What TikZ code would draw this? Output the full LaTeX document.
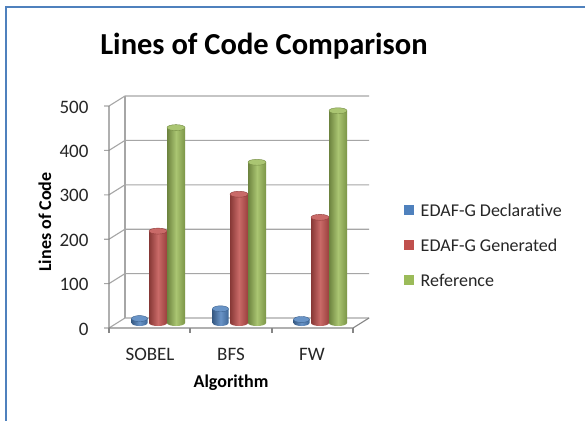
\documentclass[tikz,border=0pt]{standalone}
\usepackage{fontspec}
\setmainfont{Carlito}[Ligatures=NoCommon]
\usetikzlibrary{positioning}

\definecolor{bleu}{HTML}{4F81BD}
\definecolor{rouge}{HTML}{C0504D}
\definecolor{vert}{HTML}{9BBB59}
\definecolor{gris}{HTML}{A6A6A6}
\definecolor{grisaxe}{HTML}{868686}

%\cylindre{x du centre}{valeur}{couleur}{rayon}
\newcommand{\cylindre}[4]{%
	\pgfmathsetmacro{\haut}{323-#2*0.444}
	\shade[left color=#3!70!black, right color=#3!80!black, middle color=#3!85!white]
		(#1-#4,\haut) -- (#1-#4,323) arc[start angle=180, end angle=0, x radius=#4, y radius=3] -- (#1+#4,\haut) -- cycle;
	\fill[#3!85!white] (#1,\haut) ellipse [x radius=#4, y radius=3];
	\draw[#3!75!black, line width=0.4pt] (#1,\haut) ellipse [x radius=#4, y radius=3];
}

\begin{document}
\begin{tikzpicture}[x=1pt, y=-1pt,
	grille/.style={draw=gris, line width=1.1pt},
	axe/.style={draw=grisaxe, line width=1.1pt},
	etiq/.style={font=\fontsize{19}{21}\selectfont, text=black!85},
	titreaxe/.style={font=\bfseries\fontsize{18}{20}\selectfont},
	legende/.style={font=\fontsize{18}{20}\selectfont, text=black!85},
	carre/.style={minimum size=10pt, inner sep=0pt},
	]
	\useasboundingbox (0,0) rectangle (585,420);
	\fill[white] (0,0) rectangle (585,420);
	%cadre
	\draw[bleu, line width=2.5pt] (6,421) -- (6,7) -- (586,7);

	\node (titre) at (264,46) [font=\bfseries\fontsize{30.5}{34}\selectfont] {Lines of Code Comparison};

	%grille: devant -> mur du fond
	\foreach \v in {0,100,...,500}{
		\draw[grille] (104,328-\v*0.444) -- (109,328-\v*0.444) -- (125,318-\v*0.444) -- (369,318-\v*0.444);
		\node (lab \v) at (92,329-\v*0.444) [etiq, anchor=east] {\v};
	}
	\draw[grille] (125,96) -- (125,318);
	%axes
	\draw[axe] (109,106) -- (109,328) -- (353,328) -- (369,318);
	\foreach \x in {109,190,272,353}
		\draw[axe] (\x,328) -- (\x,333);

	%barres
	\cylindre{139.5}{10}{bleu}{8}
	\cylindre{158}{207}{rouge}{9}
	\cylindre{176}{440}{vert}{9}
	\cylindre{220.5}{32}{bleu}{8}
	\cylindre{239}{290}{rouge}{9}
	\cylindre{257}{362}{vert}{9}
	\cylindre{301.5}{8}{bleu}{8}
	\cylindre{320}{238}{rouge}{9}
	\cylindre{338}{478}{vert}{9}

	\node (cat 1) at (150,354) [etiq] {SOBEL};
	\node (cat 2) at (231,354) [etiq] {BFS};
	\node (cat 3) at (312,354) [etiq] {FW};

	\node (axe x) at (231,383) [titreaxe] {Algorithm};
	\node (axe y) at (45,222) [titreaxe, rotate=90] {Lines of Code};

	%legende
	\node (leg 1) at (409,210) [carre, fill=bleu] {};
	\node (leg 2) at (409,245) [carre, fill=rouge] {};
	\node (leg 3) at (409,280) [carre, fill=vert] {};
	\node (txt 1) [legende, right=3pt of leg 1] {EDAF-G Declarative};
	\node (txt 2) [legende, right=3pt of leg 2] {EDAF-G Generated};
	\node (txt 3) [legende, right=3pt of leg 3] {Reference};
\end{tikzpicture}
\end{document}
